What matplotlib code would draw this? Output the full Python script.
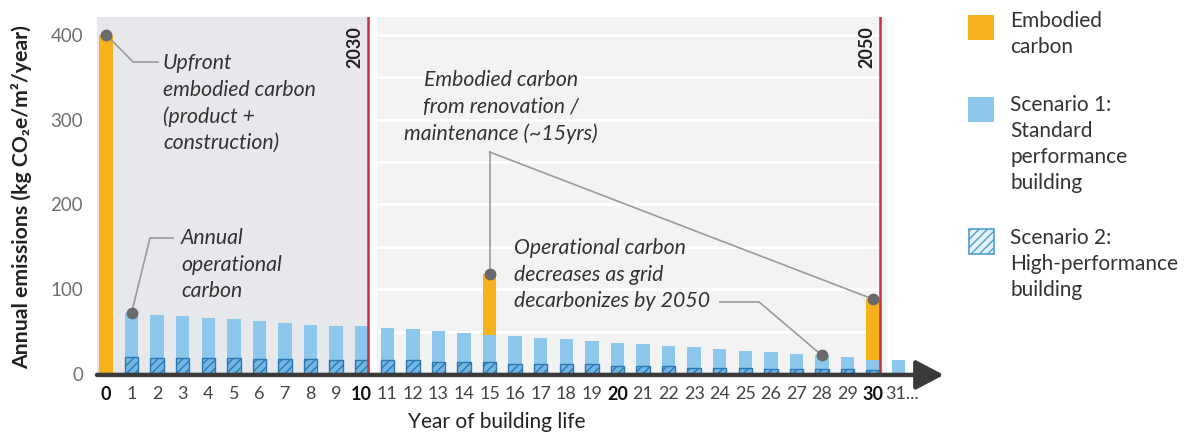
import matplotlib
matplotlib.use("Agg")
import matplotlib.pyplot as plt
from matplotlib.patches import Rectangle

plt.rcParams['font.family'] = ['Lato', 'DejaVu Sans']
plt.rcParams['hatch.linewidth'] = 1.0

# ---------------- data ----------------
years = list(range(32))
scenario1 = [0, 72.5, 70, 68.6, 66.7, 64.7, 62.7, 60.8, 58.8, 57.3, 56.5, 54.9,
             53.3, 51.4, 49.4, 46.7, 45.5, 43.5, 41.6, 39.6, 37.6, 36.0, 33.7,
             31.8, 29.8, 27.8, 26.3, 24.3, 22.4, 20.0, 17.6, 16.9]
scenario2 = [0, 21, 19.6, 19.6, 19.6, 19.6, 18, 18, 18, 16.5, 16.5, 16.5, 16.5,
             14.9, 14.9, 14.9, 12.5, 12.5, 12.5, 12.5, 10.2, 10.2, 10.2, 8.2,
             8.2, 8.2, 6.3, 6.3, 6.3, 6.3, 4.7, 0]
embodied_years = [0, 15, 30]
embodied_values = [400, 71, 71]
tick_labels = [str(y) for y in range(31)] + ["31..."]
bold_ticks = [0, 10, 20, 30]
yticks = [0, 100, 200, 300, 400]
milestones = [(10, "2030"), (30, "2050")]

# ---------------- styles ----------------
ORANGE = '#f7b11c'
BLUE = '#8dc7ec'
HATCH_FACE = '#74b6e2'
HATCH_EDGE = '#2a78b3'
RED = '#c2333d'
TXT = '#333333'
GRAY_LINE = '#9a9a9a'
DOT = '#6a6a6a'

fig = plt.figure(figsize=(12.02, 4.34), dpi=100)
ax = fig.add_axes([97/1202, 59/434, 848/1202, 358/434])
ax.set_xlim(-0.352, 32.81)
ax.set_ylim(-0.6, 420.6)
for s in ax.spines.values():
    s.set_visible(False)
ax.set_facecolor('white')

# background regions
line_off = 0.26
ax.axvspan(-0.352, 10 + line_off, color='#e7e8eb', zorder=0, lw=0)
ax.axvspan(10.6, 30 + line_off + 0.3, color='#f3f3f3', zorder=0, lw=0)
ax.hlines(range(50, 401, 50), 10.6, 30 + line_off, color='white', lw=2.2, zorder=0.5)

w = 0.53
ax.bar(years, scenario1, width=w, color=BLUE, zorder=2, lw=0)
ax.bar(years, scenario2, width=w, facecolor=HATCH_FACE, edgecolor=HATCH_EDGE,
       hatch='////', lw=1.0, zorder=3)
emb_bottom = [scenario1[y] for y in embodied_years]
ax.bar(embodied_years, embodied_values, bottom=emb_bottom, width=w, color=ORANGE,
       zorder=2, lw=0)

# milestone lines
for x, lab in milestones:
    ax.plot([x + line_off, x + line_off], [0, 420.6], color=RED, lw=1.8, zorder=4)
    ax.text(x + line_off - 0.52, 385, lab, rotation=90, ha='center', va='center',
            fontsize=13, fontweight='bold', color='#222222', zorder=5)

# axis arrow
ax.annotate('', xy=(32.76, -0.5), xytext=(-0.352, -0.5),
            arrowprops=dict(arrowstyle='-|>,head_length=0.85,head_width=0.45',
                            lw=3.2, color='#3a3a3a', mutation_scale=20,
                            shrinkA=0, shrinkB=0), zorder=6, annotation_clip=False)

# ticks
ax.set_yticks(yticks)
ax.set_yticklabels([str(v) for v in yticks], fontsize=13.5, color='#707070')
ax.set_xticks(years[:-1])
ax.set_xticklabels(tick_labels[:-1], fontsize=13, color='#444444')
for lbl, y in zip(ax.get_xticklabels(), years):
    if y in bold_ticks:
        lbl.set_fontweight('bold')
        lbl.set_color('#111111')
# last, open-ended tick label
ax.annotate(tick_labels[-1], xy=(years[-1], 0), xycoords=('data', 'axes fraction'),
            xytext=(-10, -8), textcoords='offset points', ha='left', va='top',
            fontsize=13, color='#444444', annotation_clip=False)
ax.tick_params(axis='y', length=0, pad=10)
ax.tick_params(axis='x', length=0, pad=8)
ax.set_xlabel("Year of building life", fontsize=15, color='#222222')
ax.xaxis.set_label_coords((497 - 97) / 848, -(422 - 375) / 358)
ax.xaxis.label.set_va('center')
ax.set_ylabel("Annual emissions (kg CO\u2082e/m\u00b2/year)", fontsize=15.3,
              color='#222222', fontweight='bold')
ax.yaxis.set_label_coords(-(97 - 22) / 848, (375 - 197) / 358)
ax.yaxis.label.set_va('center')

# annotations
ann_kw = dict(fontsize=15.3, style='italic', color=TXT, zorder=7, linespacing=1.40)
conn_kw = dict(color=GRAY_LINE, lw=1.2, zorder=5)
dot_kw = dict(marker='o', ms=7.5, color=DOT, zorder=8, ls='none')

# upfront
top0 = embodied_values[0]
ax.plot([0, 1.06, 2.03], [top0, 367.6, 367.6], **conn_kw)
ax.plot([0], [top0], **dot_kw)
ax.text(2.23, 378, "Upfront\nembodied carbon\n(product +\nconstruction)", ha='left',
        va='top', **ann_kw)

# annual operational
ax.plot([1, 1.72, 2.62], [scenario1[1], 160.6, 160.6], **conn_kw)
ax.plot([1], [scenario1[1]], **dot_kw)
ax.text(2.93, 172, "Annual\noperational\ncarbon", ha='left', va='top', **ann_kw)

# renovation
t15 = scenario1[15] + embodied_values[1]
t30 = scenario1[30] + embodied_values[2]
ax.plot([15, 15], [t15, 261.8], **conn_kw)
ax.plot([15, 30], [261.8, t30], **conn_kw)
ax.plot([15, 30], [t15, t30], **dot_kw)
ax.text(15.45, 358, "Embodied carbon\nfrom renovation /\nmaintenance (~15yrs)",
        ha='center', va='top', **ann_kw)

# operational decrease
ax.plot([24.0, 25.54, 28], [85.3, 85.3, scenario1[28]], **conn_kw)
ax.plot([28], [scenario1[28]], **dot_kw)
ax.text(15.96, 160, "Operational carbon\ndecreases as grid\ndecarbonizes by 2050",
        ha='left', va='top', **ann_kw)

# legend (figure pixel overlay)
lax = fig.add_axes([0, 0, 1, 1], zorder=10)
lax.set_xlim(0, 1202)
lax.set_ylim(434, 0)
lax.axis('off')
lax.add_patch(Rectangle((968, 15), 26, 25, facecolor=ORANGE, lw=0))
lax.add_patch(Rectangle((968, 97), 26, 25, facecolor=BLUE, lw=0))
lax.add_patch(Rectangle((968.5, 228.5), 25, 25, facecolor='#e6f2fa',
                        edgecolor='#4b9fd3', hatch='////', lw=1.2))
leg_kw = dict(fontsize=15, color=TXT, ha='left', va='top', linespacing=1.38)
lax.text(1010, 11, "Embodied\ncarbon", **leg_kw)
lax.text(1010, 95, "Scenario 1:\nStandard\nperformance\nbuilding", **leg_kw)
lax.text(1010, 228, "Scenario 2:\nHigh-performance\nbuilding", **leg_kw)

fig.savefig("out.png", dpi=100)
